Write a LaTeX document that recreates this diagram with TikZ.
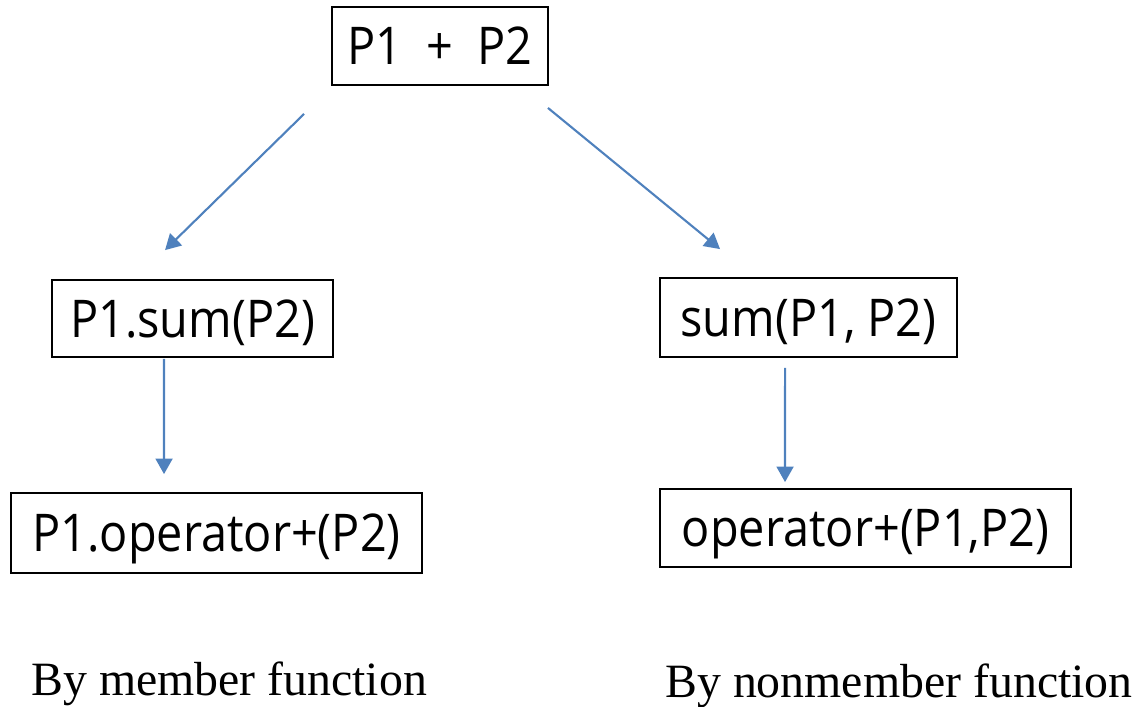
\documentclass[tikz,border=0pt]{standalone}
\usepackage{fontspec}
\setmainfont{Liberation Serif}
\newfontfamily\boxfont[FakeStretch=0.9]{Open Sans}
\usetikzlibrary{arrows.meta,calc}
\definecolor{arrowblue}{RGB}{79,129,189}
\tikzset{
  term/.style={draw,line width=1.3pt,inner sep=0pt,
    font=\boxfont\fontsize{37}{40}\selectfont,text height=26.4pt,text depth=0pt},
  arr/.style={draw=arrowblue,line width=1.5pt,-{Triangle[length=11pt,width=12pt]}},
  caption/.style={inner sep=0pt,anchor=base west,font=\fontsize{34}{36}\selectfont}
}
\begin{document}
\begin{tikzpicture}[x=0.025cm,y=-0.025cm]
\useasboundingbox (0,0) rectangle (1138,706);
% expressions
\node[term,minimum width=5.4cm,minimum height=1.95cm] (expr) at (440,46) {P1\ \ +\ \ P2};
\node[term,minimum width=7.025cm,minimum height=1.925cm] (memsum) at (192.5,318.5) {P1.sum(P2)};
\node[term,minimum width=7.425cm,minimum height=1.975cm] (nonsum) at (808.5,317.5) {sum(P1, P2)};
\node[term,minimum width=10.275cm,minimum height=2cm] (memop) at (216.5,533) {P1.operator+(P2)};
\node[term,minimum width=10.275cm,minimum height=1.95cm] (nonop) at (865.5,528) {operator+(P1,P2)};
% captions
\node[caption] (memcap) at (31,695) {By member function};
\node[caption] (noncap) at (665,697) {By nonmember function};
% arrows
\draw[arr] ($(expr.south west)+(-27,28)$) -- ($(memsum.north west)+(114,-29)$);
\draw[arr] ($(expr.south east)+(-1,22)$) -- ($(nonsum.north west)+(61,-28)$);
\draw[arr] ($(memsum.south west)+(113,1)$) -- ($(memop.north west)+(154,-18)$);
\draw[arr] ($(nonsum.south west)+(126,10)$) -- ($(nonop.north west)+(126,-6)$);
\end{tikzpicture}
\end{document}
